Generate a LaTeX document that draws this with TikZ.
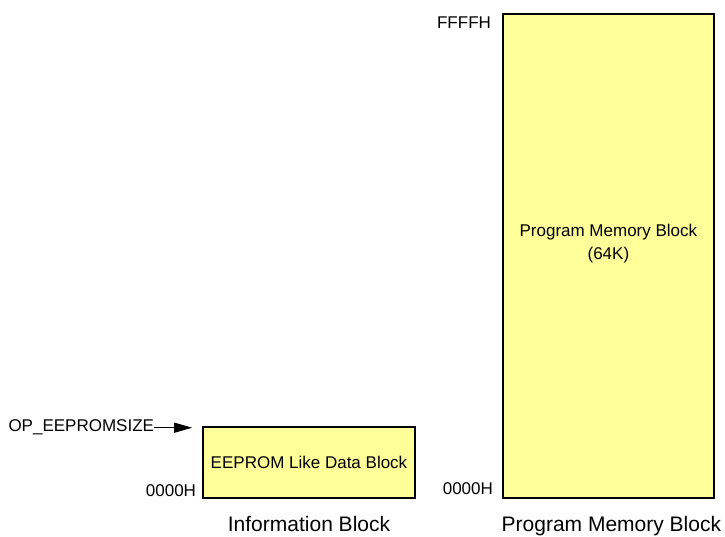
\documentclass[tikz,border=0pt]{standalone}
\usepackage{fontspec}
\setmainfont{Liberation Sans}
\usetikzlibrary{positioning,arrows.meta}
\definecolor{blockyellow}{HTML}{FFFF99}

\begin{document}
\begin{tikzpicture}[x=1pt,y=1pt,
    memblock/.style={draw=black,line width=1.6pt,fill=blockyellow,inner sep=0pt,
      font=\fontsize{17}{23}\selectfont,align=center},
    addr/.style={font=\fontsize{17}{20}\selectfont,inner sep=0pt},
    caption/.style={font=\fontsize{21}{25}\selectfont,inner sep=0pt,anchor=base}]
  \useasboundingbox (0,0) rectangle (725,536);
  \node[memblock,minimum width=212pt,minimum height=71pt] (info) at (309,73.5) {EEPROM Like Data Block};
  \node[memblock,minimum width=211pt,minimum height=484pt] (prog) at (608.4,280) {};
  \node[align=center,font=\fontsize{17}{23}\selectfont,inner sep=0pt] (progtext) at ([yshift=12pt]prog.center) {Program Memory Block\\(64K)};
  \node[addr,anchor=south east] (infolow) at ([xshift=-6pt,yshift=1.5pt]info.south west) {0000H};
  \node[addr,anchor=south east] (proglow) at ([xshift=-9pt,yshift=4pt]prog.south west) {0000H};
  \node[addr,anchor=north east] (proghigh) at ([xshift=-11pt,yshift=-3.3pt]prog.north west) {FFFFH};
  \node[addr,anchor=east] (opsize) at ([xshift=-48pt,yshift=-1.5pt]info.north west) {OP\_EEPROMSIZE};
  \coordinate (optip) at ([xshift=-10pt]info.north west);
  \draw[line width=1pt,-{Triangle[length=18pt,width=10pt]}] (opsize.east) -- (optip |- opsize.east);
  \node[caption] (infoname) at ([yshift=-33pt]info.south) {Information Block};
  \node[caption] (progname) at ([xshift=3pt,yshift=-33pt]prog.south) {Program Memory Block};
\end{tikzpicture}
\end{document}
